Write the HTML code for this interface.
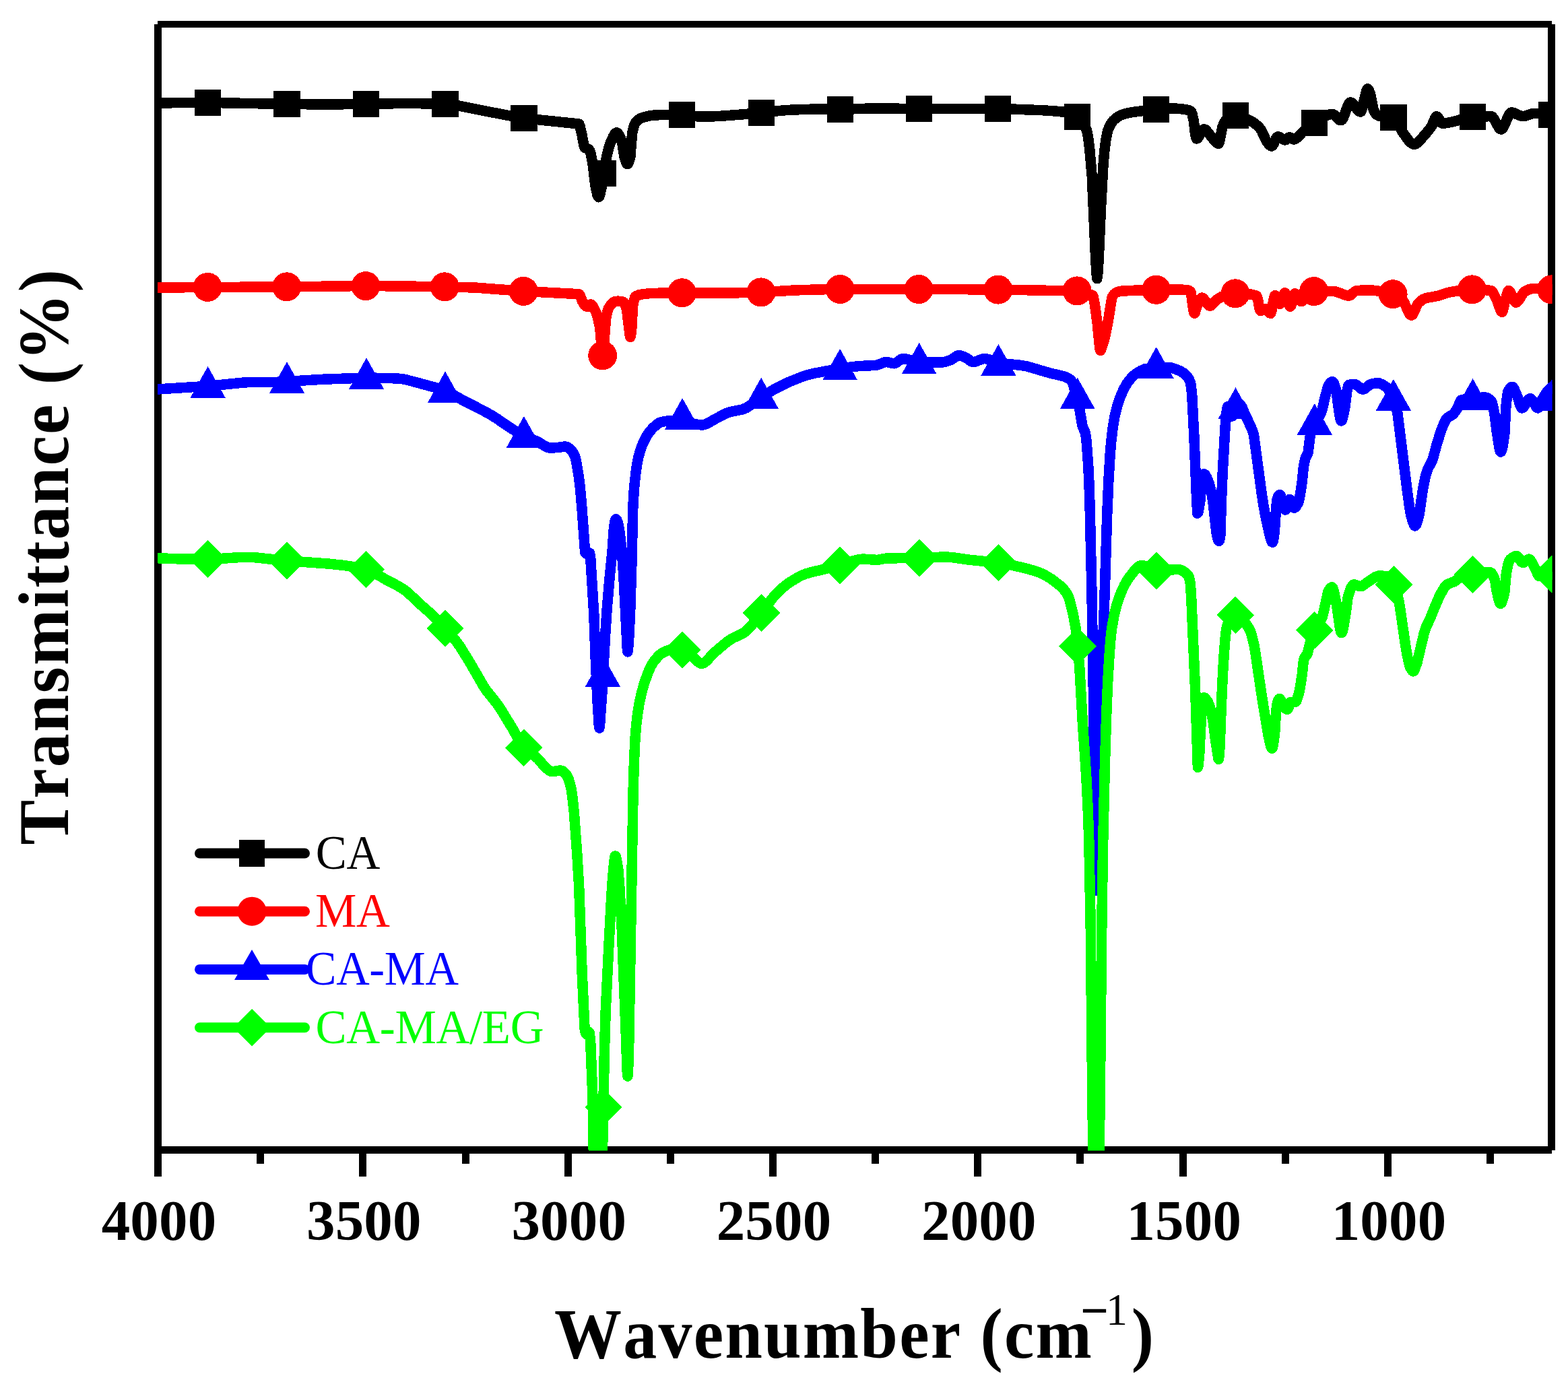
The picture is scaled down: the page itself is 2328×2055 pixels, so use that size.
<!DOCTYPE html>
<html lang="en"><head><meta charset="utf-8"><title>FTIR spectra</title>
<style>html,body{margin:0;padding:0;background:#fff}svg{display:block}text{font-kerning:none;font-variant-ligatures:none}</style></head>
<body>
<svg width="2328" height="2055" viewBox="0 0 2328 2055">
<rect width="2328" height="2055" fill="#fff"/>
<defs><clipPath id="plot"><rect x="234" y="30" width="2070.6" height="1678.4"/></clipPath></defs>
<g fill="#000" shape-rendering="crispEdges">
<rect x="229" y="36" width="11" height="1711"/>
<rect x="234" y="31" width="2070" height="10"/>
<rect x="2298" y="36" width="11" height="1672"/>
<rect x="234" y="1702" width="2070" height="11"/>
<rect x="533" y="1707" width="11" height="40"/>
<rect x="838" y="1707" width="11" height="40"/>
<rect x="1142" y="1707" width="11" height="40"/>
<rect x="1446" y="1707" width="11" height="40"/>
<rect x="1751" y="1707" width="11" height="40"/>
<rect x="2055" y="1707" width="11" height="40"/>
<rect x="381" y="1707" width="11" height="21"/>
<rect x="686" y="1707" width="11" height="21"/>
<rect x="990" y="1707" width="11" height="21"/>
<rect x="1294" y="1707" width="11" height="21"/>
<rect x="1598" y="1707" width="11" height="21"/>
<rect x="1903" y="1707" width="11" height="21"/>
<rect x="2207" y="1707" width="11" height="21"/>
</g>
<g clip-path="url(#plot)" shape-rendering="crispEdges">
<path d="M234.0,153.0 L268.8,152.6 L315.8,152.5 L412.4,154.3 L476.8,155.0 L544.0,154.5 L598.4,153.5 L630.0,153.8 L662.2,154.6 L669.2,155.2 L677.4,156.4 L750.8,170.8 L772.4,174.5 L794.6,177.3 L858.6,183.9 L859.6,184.1 L860.0,184.6 L861.0,187.4 L864.0,200.4 L866.6,214.4 L867.8,218.7 L868.2,219.3 L869.2,219.9 L872.8,221.0 L874.4,221.9 L875.6,224.0 L877.0,228.3 L879.8,241.1 L883.8,275.1 L886.8,288.9 L887.8,291.7 L888.8,292.8 L889.8,291.7 L890.8,288.9 L894.0,274.7 L898.8,241.3 L902.0,226.6 L904.2,218.5 L906.2,212.5 L910.0,203.8 L912.2,199.6 L914.2,197.3 L915.2,196.9 L916.2,197.1 L918.4,199.3 L920.8,203.8 L923.6,211.5 L927.0,233.1 L929.8,241.7 L930.8,243.4 L931.8,243.7 L932.6,243.0 L933.6,240.9 L935.8,233.1 L938.6,198.4 L940.4,190.1 L942.4,184.2 L943.6,182.2 L945.8,179.7 L948.2,177.6 L950.6,176.0 L955.8,174.0 L964.8,171.8 L973.6,170.8 L1013.4,170.4 L1020.2,170.9 L1038.4,173.2 L1052.6,173.2 L1070.2,172.3 L1105.6,169.6 L1161.4,164.1 L1175.2,163.1 L1210.6,162.0 L1253.4,162.2 L1292.4,161.0 L1359.6,161.4 L1486.0,161.4 L1548.8,163.8 L1568.2,165.1 L1581.6,166.5 L1587.6,168.1 L1593.6,170.4 L1600.0,173.8 L1603.6,176.6 L1607.2,180.9 L1610.4,186.4 L1613.2,192.8 L1614.6,198.6 L1616.2,208.8 L1617.8,222.3 L1621.2,260.8 L1626.6,382.7 L1628.0,406.7 L1628.8,413.7 L1629.6,408.7 L1631.0,388.7 L1634.6,307.3 L1637.8,248.1 L1639.6,226.1 L1641.6,209.4 L1643.4,199.7 L1645.0,193.3 L1647.0,188.3 L1649.6,183.4 L1652.8,179.1 L1656.6,175.6 L1661.2,172.4 L1666.0,170.2 L1673.2,168.2 L1682.4,166.4 L1715.8,162.2 L1733.2,161.3 L1746.2,161.1 L1755.2,161.9 L1764.6,163.5 L1768.2,165.2 L1769.0,166.5 L1770.0,169.4 L1772.2,179.1 L1774.4,197.4 L1775.6,203.8 L1776.4,206.0 L1777.8,205.5 L1779.2,203.9 L1785.6,193.1 L1787.0,192.0 L1788.2,191.9 L1789.8,192.6 L1791.6,194.4 L1805.0,210.9 L1807.2,212.7 L1809.2,213.3 L1810.0,212.3 L1810.8,209.5 L1814.8,188.9 L1817.6,182.3 L1820.0,178.1 L1821.4,176.5 L1823.2,175.2 L1826.6,173.4 L1829.6,172.2 L1834.0,171.4 L1839.2,171.9 L1845.4,173.9 L1853.0,177.5 L1860.8,181.8 L1866.4,186.2 L1870.2,190.1 L1872.8,193.5 L1879.0,207.1 L1881.0,210.7 L1885.2,215.6 L1886.6,216.6 L1888.0,217.0 L1889.0,216.5 L1890.2,215.0 L1894.6,205.6 L1895.6,204.0 L1896.6,203.1 L1897.8,202.9 L1899.4,203.4 L1905.0,207.0 L1907.4,208.0 L1909.2,207.6 L1912.8,204.5 L1914.2,203.8 L1915.8,204.2 L1920.0,206.8 L1921.2,207.0 L1922.8,206.6 L1926.0,204.3 L1933.4,196.6 L1947.0,185.6 L1963.8,174.5 L1967.8,172.2 L1971.4,170.6 L1975.8,169.5 L1978.0,169.3 L1979.2,169.5 L1981.8,171.3 L1988.2,177.7 L1990.0,178.7 L1991.6,178.6 L1993.2,176.9 L1994.8,173.7 L2001.6,155.7 L2003.0,153.3 L2004.4,152.0 L2006.0,152.1 L2007.8,153.3 L2010.0,155.7 L2016.4,164.1 L2018.4,165.7 L2020.2,166.0 L2021.4,164.3 L2022.8,160.0 L2028.4,135.9 L2029.6,132.9 L2030.6,131.9 L2031.2,132.1 L2032.0,133.1 L2034.2,138.6 L2039.4,163.5 L2040.4,165.7 L2042.6,168.8 L2044.8,171.0 L2047.0,172.0 L2051.0,172.6 L2066.6,174.0 L2069.2,174.4 L2070.4,175.1 L2072.0,176.9 L2073.8,179.8 L2081.2,194.5 L2089.0,205.4 L2092.0,209.3 L2094.6,211.9 L2096.8,213.5 L2099.0,214.3 L2100.6,214.2 L2102.2,213.7 L2106.0,211.0 L2121.0,193.6 L2125.8,186.9 L2130.6,175.5 L2131.8,173.5 L2132.8,172.8 L2133.8,173.1 L2134.8,174.0 L2139.4,181.6 L2140.6,182.9 L2141.6,183.3 L2148.4,182.6 L2161.2,179.8 L2177.2,175.0 L2183.4,173.6 L2198.0,172.9 L2214.2,172.7 L2215.8,173.6 L2217.8,176.1 L2225.4,189.5 L2227.2,191.4 L2228.8,192.0 L2230.4,191.2 L2232.0,189.1 L2234.0,185.1 L2239.8,171.4 L2241.8,168.2 L2243.4,167.1 L2245.2,167.1 L2247.4,167.6 L2256.6,171.7 L2260.6,172.6 L2264.6,172.1 L2273.8,169.0 L2277.8,168.3 L2294.2,168.7 L2300.4,169.4 L2306.0,170.4" fill="none" stroke="#000" stroke-width="15.5" stroke-linejoin="round" stroke-linecap="butt"/>
<rect x="288.6" y="132.8" width="39.5" height="39.5" fill="#000"/><rect x="406.1" y="134.8" width="39.5" height="39.5" fill="#000"/><rect x="523.5" y="134.8" width="39.5" height="39.5" fill="#000"/><rect x="641.1" y="134.8" width="39.5" height="39.5" fill="#000"/><rect x="758.2" y="155.6" width="39.5" height="39.5" fill="#000"/><rect x="875.8" y="237.6" width="39.5" height="39.5" fill="#000"/><rect x="992.8" y="150.7" width="39.5" height="39.5" fill="#000"/><rect x="1110.8" y="147.6" width="39.5" height="39.5" fill="#000"/><rect x="1227.8" y="142.6" width="39.5" height="39.5" fill="#000"/><rect x="1344.8" y="141.7" width="39.5" height="39.5" fill="#000"/><rect x="1461.8" y="141.7" width="39.5" height="39.5" fill="#000"/><rect x="1579.7" y="153.7" width="39.5" height="39.5" fill="#000"/><rect x="1696.7" y="142.6" width="39.5" height="39.5" fill="#000"/><rect x="1814.5" y="151.7" width="39.5" height="39.5" fill="#000"/><rect x="1931.8" y="162.8" width="39.5" height="39.5" fill="#000"/><rect x="2049.2" y="154.7" width="39.5" height="39.5" fill="#000"/><rect x="2166.8" y="153.6" width="39.5" height="39.5" fill="#000"/><rect x="2284.1" y="150.7" width="39.5" height="39.5" fill="#000"/>
<path d="M234.0,427.0 L429.8,425.8 L533.8,424.6 L583.2,424.8 L644.8,425.6 L678.2,426.2 L707.6,427.2 L775.6,432.3 L859.5,436.7 L860.2,437.1 L861.0,438.3 L864.8,447.9 L868.2,453.3 L870.6,455.0 L872.6,455.5 L873.6,455.0 L876.4,452.2 L877.2,452.0 L878.2,452.4 L879.6,453.7 L881.0,455.9 L885.2,464.6 L888.0,473.7 L890.8,487.2 L893.6,521.3 L894.2,526.4 L894.7,527.9 L895.2,526.4 L895.8,521.4 L899.6,473.5 L901.0,466.1 L902.4,460.7 L903.8,457.1 L905.8,454.1 L910.2,449.3 L912.2,447.9 L914.0,447.3 L918.2,447.2 L923.4,447.8 L925.4,448.3 L926.6,449.5 L928.8,454.2 L930.6,460.5 L935.0,496.8 L935.8,500.5 L936.6,497.7 L937.8,487.2 L939.6,454.7 L941.0,446.9 L942.6,441.6 L943.4,440.4 L944.6,439.6 L949.4,437.6 L954.6,436.7 L964.4,435.7 L974.4,435.3 L1002.6,434.8 L1080.8,435.0 L1101.2,434.7 L1135.6,433.7 L1178.6,431.0 L1215.2,429.9 L1241.4,429.5 L1377.8,429.5 L1448.6,429.8 L1493.6,430.2 L1601.4,432.1 L1606.4,433.2 L1619.4,437.3 L1622.1,438.7 L1623.0,440.3 L1624.6,447.0 L1626.6,460.2 L1629.2,480.3 L1632.0,509.7 L1633.2,518.5 L1633.8,520.5 L1634.6,519.3 L1638.2,508.9 L1641.0,497.9 L1645.4,475.6 L1650.2,445.8 L1651.2,441.2 L1653.6,437.3 L1656.4,434.7 L1660.0,433.3 L1665.2,432.2 L1689.4,430.9 L1736.6,430.0 L1753.2,430.0 L1764.6,431.0 L1767.0,432.7 L1768.0,434.0 L1768.4,435.2 L1770.8,453.8 L1772.4,463.0 L1773.3,465.3 L1774.2,464.1 L1776.8,455.5 L1780.4,447.2 L1782.4,443.6 L1784.0,442.1 L1785.4,442.2 L1786.8,443.2 L1793.4,452.4 L1795.0,453.8 L1796.4,454.2 L1797.8,453.8 L1799.4,452.6 L1804.8,446.5 L1806.8,444.7 L1814.0,440.4 L1819.4,438.2 L1827.4,436.4 L1833.2,435.8 L1845.2,436.1 L1858.0,437.2 L1863.4,438.5 L1865.7,439.5 L1866.2,440.1 L1867.4,444.3 L1870.0,457.6 L1870.8,460.3 L1871.4,461.3 L1873.2,461.0 L1877.2,458.6 L1879.0,458.4 L1880.6,459.5 L1884.6,464.4 L1886.3,465.3 L1887.0,464.5 L1887.8,462.0 L1891.2,443.8 L1892.6,439.1 L1893.0,438.7 L1893.4,438.8 L1894.4,439.9 L1898.4,449.7 L1899.4,451.1 L1900.2,451.4 L1901.0,450.7 L1901.8,449.2 L1905.8,437.5 L1906.8,435.5 L1907.6,434.8 L1908.4,435.1 L1909.4,437.0 L1913.6,451.9 L1914.6,454.4 L1915.6,455.3 L1916.2,454.9 L1917.0,453.2 L1920.8,438.8 L1921.6,436.7 L1922.4,435.8 L1923.4,436.1 L1924.6,437.2 L1930.0,446.0 L1931.2,447.3 L1932.4,447.7 L1933.6,447.2 L1935.0,445.8 L1939.6,438.6 L1941.4,436.4 L1946.0,433.8 L1949.6,432.7 L1980.6,432.5 L1985.8,433.8 L1997.6,438.2 L2000.6,438.9 L2003.2,439.1 L2005.6,438.2 L2011.2,432.9 L2013.6,431.6 L2027.4,430.8 L2038.2,431.1 L2052.2,432.8 L2061.2,434.6 L2070.0,437.4 L2076.6,440.9 L2081.0,444.1 L2083.2,446.4 L2085.4,450.4 L2091.8,464.6 L2093.8,467.4 L2095.5,468.2 L2096.8,467.6 L2098.4,465.3 L2103.4,454.1 L2105.2,450.8 L2108.8,447.3 L2112.6,444.6 L2115.4,443.3 L2119.4,442.2 L2136.4,439.0 L2149.4,434.7 L2154.4,433.5 L2170.6,430.9 L2182.6,429.9 L2199.8,430.2 L2214.0,431.5 L2215.8,433.2 L2218.0,436.8 L2222.8,446.7 L2227.8,460.4 L2229.0,462.5 L2230.2,463.3 L2230.8,462.7 L2231.6,460.4 L2234.4,447.2 L2237.4,436.7 L2238.8,432.9 L2239.8,431.6 L2241.0,432.0 L2242.2,433.5 L2248.0,446.4 L2249.4,448.5 L2250.8,449.2 L2252.6,448.4 L2254.4,446.6 L2260.6,436.6 L2263.0,433.5 L2264.8,432.2 L2270.6,429.6 L2275.2,428.5 L2283.6,428.5 L2295.8,428.9 L2306.0,429.9" fill="none" stroke="#ff0000" stroke-width="15.5" stroke-linejoin="round" stroke-linecap="butt"/>
<circle cx="308.4" cy="426.4" r="21.5" fill="#ff0000"/><circle cx="425.8" cy="425.8" r="21.5" fill="#ff0000"/><circle cx="543.0" cy="424.6" r="21.5" fill="#ff0000"/><circle cx="660.3" cy="425.8" r="21.5" fill="#ff0000"/><circle cx="777.3" cy="432.4" r="21.5" fill="#ff0000"/><circle cx="894.7" cy="527.9" r="21.5" fill="#ff0000"/><circle cx="1012.5" cy="434.8" r="21.5" fill="#ff0000"/><circle cx="1129.9" cy="433.9" r="21.5" fill="#ff0000"/><circle cx="1247.3" cy="429.5" r="21.5" fill="#ff0000"/><circle cx="1364.1" cy="429.5" r="21.5" fill="#ff0000"/><circle cx="1481.9" cy="430.1" r="21.5" fill="#ff0000"/><circle cx="1599.2" cy="431.9" r="21.5" fill="#ff0000"/><circle cx="1716.6" cy="430.3" r="21.5" fill="#ff0000"/><circle cx="1834.0" cy="435.8" r="21.5" fill="#ff0000"/><circle cx="1950.7" cy="432.6" r="21.5" fill="#ff0000"/><circle cx="2068.1" cy="436.7" r="21.5" fill="#ff0000"/><circle cx="2185.6" cy="429.9" r="21.5" fill="#ff0000"/><circle cx="2303.6" cy="429.9" r="21.5" fill="#ff0000"/>
<path d="M234.0,578.0 L309.8,573.2 L360.4,568.2 L372.6,567.3 L407.8,567.5 L478.0,563.3 L538.4,561.1 L552.0,561.1 L585.4,561.8 L595.6,562.4 L601.2,563.4 L616.6,567.3 L650.0,576.5 L658.2,579.0 L664.4,581.4 L670.2,584.5 L684.8,593.0 L720.2,611.2 L729.0,616.1 L737.2,621.2 L756.4,634.4 L773.2,644.7 L781.2,648.7 L798.6,655.9 L809.0,662.3 L812.6,664.1 L816.0,665.1 L819.8,665.1 L829.6,664.3 L839.0,662.9 L841.6,663.5 L844.4,665.3 L849.0,669.5 L851.0,672.3 L853.6,678.0 L855.4,684.2 L859.4,708.1 L861.2,722.6 L864.0,755.3 L868.6,818.9 L868.8,820.0 L869.6,821.4 L871.4,822.9 L872.4,822.9 L874.6,821.2 L875.4,821.1 L876.0,823.5 L876.8,830.0 L881.8,911.9 L884.4,982.5 L887.2,1044.2 L889.2,1076.0 L889.9,1081.1 L890.6,1075.8 L894.2,1024.3 L898.6,943.5 L901.2,903.7 L905.0,858.7 L909.1,817.7 L911.4,784.3 L912.6,776.0 L913.6,771.8 L914.4,770.7 L915.2,771.3 L916.0,772.7 L917.8,777.5 L920.2,791.3 L923.2,817.7 L925.8,854.9 L931.4,965.2 L931.8,967.9 L932.6,962.4 L934.0,943.6 L935.8,904.3 L937.9,836.5 L939.8,753.1 L941.4,726.1 L944.0,701.1 L946.0,687.8 L948.2,677.4 L951.2,667.0 L954.6,658.1 L959.2,649.0 L963.8,641.7 L969.4,635.4 L975.6,629.9 L978.8,627.8 L981.8,626.7 L990.6,625.0 L998.0,624.5 L1004.2,624.9 L1015.4,626.3 L1036.8,630.6 L1042.6,631.0 L1045.8,630.5 L1050.8,628.5 L1060.2,623.1 L1074.6,615.4 L1079.4,613.2 L1085.8,611.3 L1101.0,608.2 L1107.2,606.1 L1113.6,602.1 L1129.0,590.2 L1148.4,578.7 L1160.4,572.4 L1171.4,567.2 L1184.6,561.8 L1194.8,558.0 L1202.6,555.7 L1212.4,553.6 L1240.4,548.4 L1257.2,545.8 L1274.2,543.7 L1301.2,542.3 L1304.4,541.4 L1311.6,538.4 L1314.6,537.6 L1317.8,537.7 L1324.8,539.6 L1327.8,539.8 L1330.8,538.5 L1337.4,533.6 L1340.0,532.6 L1346.0,533.2 L1358.2,536.5 L1363.2,537.4 L1399.0,538.0 L1403.6,537.2 L1410.6,534.9 L1413.0,533.6 L1420.4,528.6 L1422.8,527.8 L1425.0,527.8 L1428.8,528.8 L1435.0,531.5 L1441.4,536.3 L1443.8,537.4 L1445.8,537.4 L1448.4,536.9 L1459.0,532.9 L1461.4,532.6 L1464.4,532.8 L1468.4,533.9 L1477.8,537.5 L1482.2,538.7 L1491.8,540.0 L1514.6,542.3 L1525.4,544.1 L1560.0,554.3 L1577.8,558.3 L1582.0,559.7 L1585.4,561.2 L1588.2,563.1 L1590.6,565.4 L1592.2,567.5 L1593.2,570.1 L1602.6,606.3 L1606.8,631.1 L1608.0,634.9 L1610.6,640.8 L1611.6,644.3 L1612.4,648.9 L1613.4,658.7 L1615.8,692.5 L1617.0,718.2 L1618.2,755.9 L1621.0,880.8 L1623.4,1027.9 L1626.6,1286.1 L1627.5,1322.0 L1628.0,1316.7 L1628.6,1298.4 L1631.4,1153.9 L1635.0,1030.9 L1640.4,872.4 L1643.7,764.6 L1645.8,715.4 L1648.2,674.4 L1649.8,655.0 L1652.4,633.5 L1654.8,619.3 L1658.2,604.9 L1662.6,591.3 L1668.4,577.7 L1673.2,569.2 L1679.4,561.3 L1683.4,557.4 L1687.2,554.5 L1694.4,550.2 L1699.8,547.9 L1703.0,547.3 L1710.4,546.7 L1735.8,545.8 L1739.0,546.1 L1742.8,547.2 L1750.2,550.0 L1754.0,551.9 L1757.6,554.2 L1760.8,556.9 L1763.2,559.5 L1765.0,562.3 L1767.0,567.0 L1767.8,570.3 L1769.0,578.9 L1769.8,587.7 L1772.8,645.9 L1776.4,736.3 L1777.8,762.3 L1778.6,761.2 L1779.4,758.4 L1781.7,745.0 L1784.2,718.6 L1785.8,709.0 L1786.6,705.6 L1787.4,703.9 L1788.4,704.0 L1789.4,705.0 L1791.6,708.9 L1795.0,717.3 L1796.6,722.8 L1798.4,730.7 L1799.8,738.2 L1801.2,748.1 L1806.2,792.4 L1808.2,800.8 L1809.0,802.8 L1809.6,803.4 L1810.2,803.0 L1810.8,801.3 L1812.0,794.0 L1813.2,749.3 L1815.2,701.9 L1819.2,632.2 L1821.6,607.0 L1822.4,604.0 L1823.2,604.5 L1828.2,616.4 L1829.0,617.7 L1829.6,618.0 L1830.8,616.1 L1833.2,608.7 L1837.0,599.9 L1837.8,598.8 L1838.6,598.5 L1839.6,598.9 L1840.8,600.0 L1843.2,603.3 L1844.4,605.5 L1848.0,614.0 L1858.2,636.1 L1860.0,640.7 L1861.5,646.0 L1873.6,735.6 L1876.2,752.1 L1879.6,769.9 L1885.6,796.7 L1887.6,803.2 L1888.4,804.7 L1889.3,805.3 L1890.0,804.2 L1890.6,801.8 L1892.3,790.0 L1894.8,752.2 L1895.8,743.0 L1896.8,739.4 L1898.0,736.6 L1899.0,735.1 L1900.1,734.5 L1901.0,735.2 L1902.6,739.3 L1906.4,753.5 L1907.4,755.9 L1908.4,757.0 L1909.0,756.7 L1909.8,755.3 L1913.2,744.0 L1914.0,742.2 L1914.6,741.5 L1915.4,741.8 L1916.2,742.9 L1919.8,751.9 L1920.6,753.4 L1921.4,754.1 L1922.8,753.7 L1924.2,752.3 L1927.6,746.2 L1929.2,740.8 L1931.2,729.2 L1933.2,714.8 L1935.2,695.3 L1936.6,686.4 L1938.2,679.7 L1941.2,674.4 L1942.2,671.6 L1944.8,649.7 L1946.2,643.4 L1948.6,636.0 L1952.2,628.1 L1954.2,624.6 L1959.0,617.7 L1961.6,612.5 L1963.2,607.4 L1967.2,590.1 L1971.4,574.8 L1972.9,571.4 L1975.2,568.4 L1976.8,567.0 L1977.8,566.6 L1978.6,566.7 L1980.2,568.8 L1982.0,573.6 L1984.2,581.6 L1987.0,604.3 L1988.8,615.5 L1990.2,622.6 L1990.8,624.4 L1991.4,625.0 L1992.2,624.3 L1993.0,622.5 L1994.8,615.4 L1997.0,603.8 L1999.6,582.1 L2001.4,574.1 L2002.6,571.4 L2007.6,570.5 L2012.2,570.5 L2014.6,571.9 L2020.6,577.1 L2022.2,577.9 L2023.6,578.1 L2025.0,577.7 L2026.6,576.9 L2032.6,571.9 L2035.0,570.5 L2042.0,569.0 L2047.2,568.8 L2051.2,570.3 L2057.2,574.1 L2060.6,577.4 L2063.6,581.6 L2066.8,588.4 L2071.2,600.0 L2073.2,606.2 L2074.8,613.0 L2088.6,723.6 L2093.0,755.4 L2094.8,765.0 L2097.4,774.2 L2099.4,779.4 L2100.2,780.5 L2101.0,780.9 L2102.2,779.9 L2103.4,777.3 L2107.0,764.5 L2112.4,727.2 L2115.2,712.8 L2117.4,703.4 L2120.0,695.8 L2125.4,686.0 L2127.4,681.2 L2133.0,660.4 L2139.4,639.7 L2144.0,628.5 L2147.0,622.7 L2148.2,621.1 L2149.8,619.7 L2156.6,615.7 L2160.2,611.8 L2165.2,603.8 L2167.8,596.2 L2168.8,594.3 L2170.6,593.7 L2174.6,593.0 L2185.8,592.1 L2198.6,590.3 L2204.4,589.9 L2206.8,590.3 L2209.4,591.6 L2211.8,593.4 L2214.4,596.0 L2215.2,597.6 L2216.2,601.1 L2218.8,614.2 L2222.2,640.7 L2225.8,663.9 L2227.0,669.2 L2227.6,670.6 L2228.2,671.0 L2228.8,670.5 L2229.4,669.4 L2230.8,664.3 L2232.2,656.3 L2233.9,643.3 L2235.8,604.8 L2237.6,588.1 L2238.8,582.1 L2240.4,578.8 L2242.0,576.4 L2243.6,574.9 L2245.2,574.4 L2246.4,575.0 L2247.6,576.7 L2253.0,589.2 L2257.4,602.9 L2259.0,605.6 L2259.6,605.9 L2260.4,605.7 L2262.0,604.5 L2268.8,594.0 L2270.4,592.3 L2271.9,591.7 L2273.2,592.2 L2274.8,594.0 L2280.8,604.3 L2282.0,605.5 L2283.2,605.9 L2284.2,605.4 L2285.2,603.9 L2290.0,592.6 L2296.0,582.9 L2298.2,580.0 L2301.0,577.2 L2303.6,574.9 L2306.0,573.4" fill="none" stroke="#0000ff" stroke-width="15.5" stroke-linejoin="round" stroke-linecap="butt"/>
<path d="M308.6,544.0 L334.6,590.5 L282.6,590.5 Z" fill="#0000ff"/><path d="M426.0,537.2 L452.0,583.7 L400.0,583.7 Z" fill="#0000ff"/><path d="M544.1,531.3 L570.1,577.8 L518.1,577.8 Z" fill="#0000ff"/><path d="M661.0,551.4 L687.0,597.9 L635.0,597.9 Z" fill="#0000ff"/><path d="M777.9,618.0 L803.9,664.5 L751.9,664.5 Z" fill="#0000ff"/><path d="M894.9,973.0 L920.9,1019.5 L868.9,1019.5 Z" fill="#0000ff"/><path d="M1013.1,591.0 L1039.1,637.5 L987.1,637.5 Z" fill="#0000ff"/><path d="M1130.1,560.7 L1156.1,607.2 L1104.1,607.2 Z" fill="#0000ff"/><path d="M1247.1,517.9 L1273.1,564.4 L1221.1,564.4 Z" fill="#0000ff"/><path d="M1364.7,508.9 L1390.7,555.4 L1338.7,555.4 Z" fill="#0000ff"/><path d="M1482.4,511.1 L1508.4,557.6 L1456.4,557.6 Z" fill="#0000ff"/><path d="M1599.7,560.7 L1625.7,607.2 L1573.7,607.2 Z" fill="#0000ff"/><path d="M1716.7,515.2 L1742.7,561.7 L1690.7,561.7 Z" fill="#0000ff"/><path d="M1834.5,575.4 L1860.5,621.9 L1808.5,621.9 Z" fill="#0000ff"/><path d="M1951.8,599.0 L1977.8,645.5 L1925.8,645.5 Z" fill="#0000ff"/><path d="M2068.9,563.0 L2094.9,609.5 L2042.9,609.5 Z" fill="#0000ff"/><path d="M2186.6,562.0 L2212.6,608.5 L2160.6,608.5 Z" fill="#0000ff"/><path d="M2304.0,563.0 L2330.0,609.5 L2278.0,609.5 Z" fill="#0000ff"/>
<path d="M234.0,828.7 L266.0,829.9 L309.8,830.2 L323.2,829.7 L358.8,827.4 L369.2,827.3 L379.2,827.8 L422.8,832.4 L485.8,836.9 L511.0,839.5 L527.0,842.0 L541.2,845.0 L548.2,847.2 L556.0,850.8 L573.2,860.7 L591.6,870.3 L601.0,876.3 L607.2,881.4 L622.8,896.3 L641.6,912.8 L650.4,921.4 L672.6,946.5 L678.4,953.7 L683.2,960.4 L698.6,985.3 L717.2,1017.8 L722.8,1026.0 L736.8,1043.5 L743.6,1053.3 L760.8,1081.5 L772.2,1102.4 L777.0,1109.4 L779.8,1112.3 L783.2,1115.3 L794.2,1123.0 L798.6,1126.6 L801.4,1129.5 L808.4,1138.4 L815.2,1143.9 L817.6,1145.2 L819.6,1145.6 L822.8,1145.4 L830.6,1144.1 L833.8,1144.2 L835.6,1145.0 L837.4,1146.4 L841.8,1151.7 L844.0,1156.3 L846.4,1164.2 L848.2,1172.0 L849.8,1182.7 L852.4,1207.3 L856.8,1267.7 L859.6,1314.6 L864.2,1445.4 L868.0,1526.5 L868.6,1531.1 L869.6,1534.0 L870.6,1535.6 L871.8,1535.9 L874.4,1533.2 L875.0,1533.0 L875.2,1533.3 L876.6,1545.0 L880.0,1630.0 L881.2,1705.3 L882.0,1725.5 L883.4,1753.7 L884.8,1774.0 L886.2,1786.2 L886.8,1788.9 L887.5,1790.0 L888.2,1789.1 L889.0,1785.7 L890.6,1772.2 L892.2,1750.4 L894.0,1717.1 L894.8,1694.9 L897.4,1561.1 L899.2,1501.1 L904.2,1398.1 L907.8,1330.9 L909.4,1305.9 L911.6,1281.6 L912.4,1275.0 L913.2,1271.3 L913.6,1271.0 L914.2,1271.8 L915.2,1275.2 L917.8,1291.2 L919.8,1316.4 L923.2,1377.7 L929.4,1538.3 L931.0,1587.1 L931.6,1597.2 L931.8,1598.0 L932.0,1597.3 L933.0,1580.0 L933.8,1547.4 L940.2,1171.0 L941.6,1127.0 L943.0,1096.9 L944.6,1077.2 L946.6,1060.0 L949.1,1044.8 L952.2,1030.1 L956.0,1016.2 L961.4,1000.6 L966.0,989.9 L970.2,982.9 L976.8,974.9 L980.0,971.9 L983.0,969.8 L988.8,966.9 L993.6,965.1 L997.6,964.2 L1001.6,964.0 L1012.8,964.9 L1015.8,965.8 L1019.6,968.1 L1029.0,975.8 L1035.4,981.9 L1038.0,983.9 L1039.8,984.9 L1041.4,985.2 L1043.0,985.0 L1044.8,984.4 L1047.0,983.0 L1049.6,980.7 L1060.4,969.1 L1079.6,952.9 L1087.6,947.7 L1102.8,940.5 L1106.2,938.3 L1109.4,935.6 L1113.6,931.2 L1118.4,925.5 L1133.6,906.0 L1145.2,890.4 L1150.0,884.5 L1155.8,878.6 L1161.8,873.0 L1167.4,868.3 L1172.8,864.5 L1185.8,856.6 L1191.4,853.9 L1196.6,851.9 L1204.8,849.6 L1248.0,839.2 L1266.6,832.9 L1273.6,831.0 L1278.0,830.3 L1282.2,830.1 L1301.4,831.4 L1305.0,831.1 L1313.8,829.3 L1317.8,828.9 L1366.6,828.4 L1400.2,827.0 L1406.6,827.1 L1412.8,827.5 L1439.4,831.3 L1481.8,835.4 L1492.0,837.0 L1503.6,839.4 L1526.8,844.9 L1540.2,849.0 L1545.6,851.1 L1550.8,853.6 L1556.2,856.7 L1561.8,860.3 L1573.2,869.1 L1579.0,874.7 L1582.0,878.5 L1584.6,882.5 L1586.0,885.3 L1587.4,889.2 L1589.8,897.8 L1593.4,912.9 L1597.0,932.4 L1598.6,944.6 L1602.6,988.2 L1607.2,1070.5 L1612.8,1153.4 L1615.0,1197.0 L1616.7,1243.5 L1619.2,1372.2 L1621.8,1630.4 L1622.8,1702.1 L1625.4,1776.7 L1626.4,1793.2 L1627.0,1798.5 L1627.5,1800.0 L1628.0,1798.5 L1628.6,1793.2 L1629.6,1776.7 L1632.2,1702.2 L1633.2,1633.0 L1635.8,1374.0 L1637.6,1254.1 L1640.6,1128.2 L1642.8,1058.5 L1644.6,1014.8 L1647.0,973.6 L1649.0,947.5 L1650.6,933.7 L1653.8,915.0 L1657.8,898.5 L1663.0,883.4 L1666.2,875.7 L1669.4,869.0 L1672.8,862.9 L1676.2,857.7 L1684.0,847.7 L1688.0,843.3 L1691.6,840.5 L1693.4,839.7 L1695.0,839.5 L1697.4,839.8 L1700.0,840.6 L1710.8,846.0 L1715.6,847.4 L1723.4,847.3 L1744.2,845.6 L1748.6,845.5 L1751.6,845.9 L1755.6,847.4 L1759.4,849.8 L1763.8,853.9 L1765.0,856.2 L1766.2,860.6 L1767.4,867.3 L1768.8,889.4 L1774.8,1028.7 L1778.4,1139.4 L1778.8,1138.5 L1779.4,1134.3 L1780.8,1117.9 L1782.6,1081.1 L1784.4,1052.1 L1786.2,1039.9 L1787.0,1036.8 L1787.6,1035.8 L1788.6,1036.1 L1789.8,1037.1 L1793.0,1041.5 L1795.6,1048.0 L1798.0,1056.1 L1801.2,1072.4 L1804.6,1098.6 L1808.6,1125.0 L1809.2,1127.3 L1809.6,1126.6 L1811.0,1109.8 L1813.6,1041.0 L1815.6,998.7 L1817.4,968.9 L1819.0,948.6 L1820.6,934.7 L1821.6,929.7 L1824.0,924.1 L1826.6,919.4 L1829.0,916.2 L1831.6,914.1 L1833.0,913.5 L1834.6,913.3 L1836.2,913.6 L1837.8,914.4 L1841.0,917.0 L1848.0,924.2 L1851.6,928.7 L1854.6,933.7 L1856.6,938.0 L1858.6,944.1 L1861.4,955.3 L1863.2,964.6 L1873.2,1032.5 L1882.8,1091.1 L1886.6,1107.6 L1887.6,1110.4 L1888.5,1111.4 L1889.2,1110.5 L1890.0,1107.4 L1891.6,1096.7 L1892.8,1086.0 L1894.2,1063.2 L1895.2,1052.3 L1896.2,1044.7 L1897.4,1040.7 L1899.0,1037.8 L1899.6,1037.6 L1900.4,1038.0 L1902.0,1040.5 L1906.6,1050.5 L1909.2,1052.6 L1911.4,1053.4 L1912.0,1053.0 L1912.6,1051.8 L1915.0,1044.5 L1916.0,1042.6 L1923.6,1042.4 L1925.0,1040.5 L1928.6,1028.7 L1930.4,1020.1 L1933.2,1002.0 L1935.0,984.5 L1935.8,979.6 L1937.2,976.2 L1940.2,972.0 L1941.6,969.1 L1945.3,953.6 L1948.2,944.5 L1951.0,937.3 L1954.0,931.4 L1960.4,921.9 L1963.3,915.7 L1964.8,910.4 L1971.4,880.2 L1972.2,878.0 L1973.6,875.6 L1975.0,873.6 L1976.4,872.3 L1977.8,871.9 L1978.6,872.9 L1979.6,875.5 L1980.8,880.2 L1984.8,899.8 L1989.6,933.5 L1990.8,938.4 L1991.4,939.5 L1991.8,939.6 L1992.6,938.7 L1993.4,936.5 L1995.4,927.0 L1998.2,910.2 L2001.2,886.5 L2004.8,875.3 L2006.4,871.7 L2008.0,869.2 L2009.2,868.2 L2010.6,867.9 L2012.8,868.4 L2018.4,870.5 L2020.2,870.7 L2021.8,870.3 L2024.2,869.0 L2029.0,865.4 L2040.6,857.6 L2043.6,856.0 L2046.2,855.1 L2051.4,855.0 L2058.8,855.7 L2060.8,856.6 L2062.8,858.3 L2066.2,862.7 L2070.2,869.4 L2072.4,875.2 L2075.0,884.3 L2076.8,892.0 L2078.2,899.8 L2086.8,958.6 L2089.4,973.7 L2091.8,984.7 L2093.4,990.2 L2096.2,995.2 L2097.4,996.5 L2098.3,996.8 L2099.2,996.2 L2100.4,994.0 L2104.0,983.7 L2114.0,941.5 L2117.0,931.6 L2123.8,917.4 L2130.4,900.8 L2137.6,884.2 L2144.0,873.1 L2146.2,870.1 L2148.2,868.2 L2151.2,866.6 L2159.4,863.5 L2167.8,857.4 L2171.2,855.7 L2176.6,854.5 L2202.4,850.4 L2208.6,849.7 L2212.6,849.7 L2214.0,850.6 L2215.6,852.7 L2219.0,859.6 L2220.0,864.0 L2222.0,876.7 L2224.8,889.3 L2226.4,894.7 L2227.2,896.1 L2227.8,896.4 L2229.2,895.1 L2230.6,891.9 L2232.2,886.3 L2233.9,878.6 L2236.4,851.0 L2239.2,837.4 L2240.4,833.7 L2241.6,831.3 L2244.2,828.8 L2246.8,827.0 L2250.2,825.7 L2251.6,825.6 L2252.6,826.0 L2254.4,827.7 L2258.8,834.0 L2260.0,835.1 L2261.0,835.5 L2263.2,834.8 L2268.6,830.6 L2270.0,830.2 L2271.2,830.6 L2272.6,832.1 L2274.0,834.3 L2279.6,844.9 L2283.4,853.2 L2284.4,854.8 L2285.4,855.6 L2291.8,855.6 L2297.2,855.1 L2301.8,854.1 L2306.0,852.5" fill="none" stroke="#00ff00" stroke-width="15.5" stroke-linejoin="round" stroke-linecap="butt"/>
<path d="M308.6,802.4 L336.4,830.2 L308.6,858.0 L280.8,830.2 Z" fill="#00ff00"/><path d="M426.0,804.9 L453.8,832.7 L426.0,860.5 L398.2,832.7 Z" fill="#00ff00"/><path d="M543.4,817.8 L571.2,845.6 L543.4,873.4 L515.6,845.6 Z" fill="#00ff00"/><path d="M661.0,905.4 L688.8,933.2 L661.0,961.0 L633.2,933.2 Z" fill="#00ff00"/><path d="M777.8,1082.5 L805.6,1110.3 L777.8,1138.1 L750.0,1110.3 Z" fill="#00ff00"/><path d="M895.9,1616.2 L923.7,1644.0 L895.9,1671.8 L868.1,1644.0 Z" fill="#00ff00"/><path d="M1013.0,937.1 L1040.8,964.9 L1013.0,992.7 L985.2,964.9 Z" fill="#00ff00"/><path d="M1130.4,882.3 L1158.2,910.1 L1130.4,937.9 L1102.6,910.1 Z" fill="#00ff00"/><path d="M1247.1,811.6 L1274.9,839.4 L1247.1,867.2 L1219.3,839.4 Z" fill="#00ff00"/><path d="M1365.0,800.6 L1392.8,828.4 L1365.0,856.2 L1337.2,828.4 Z" fill="#00ff00"/><path d="M1482.4,807.7 L1510.2,835.5 L1482.4,863.3 L1454.6,835.5 Z" fill="#00ff00"/><path d="M1600.0,931.8 L1627.8,959.6 L1600.0,987.4 L1572.2,959.6 Z" fill="#00ff00"/><path d="M1716.9,819.7 L1744.7,847.5 L1716.9,875.3 L1689.1,847.5 Z" fill="#00ff00"/><path d="M1834.4,885.5 L1862.2,913.3 L1834.4,941.1 L1806.6,913.3 Z" fill="#00ff00"/><path d="M1951.7,907.9 L1979.5,935.7 L1951.7,963.5 L1923.9,935.7 Z" fill="#00ff00"/><path d="M2069.5,840.3 L2097.3,868.1 L2069.5,895.9 L2041.7,868.1 Z" fill="#00ff00"/><path d="M2186.7,825.3 L2214.5,853.1 L2186.7,880.9 L2158.9,853.1 Z" fill="#00ff00"/><path d="M2304.0,824.7 L2331.8,852.5 L2304.0,880.3 L2276.2,852.5 Z" fill="#00ff00"/>
</g>
<line x1="296.5" y1="1267" x2="452.5" y2="1267" stroke="#000" stroke-width="15" stroke-linecap="round"/>
<rect x="355" y="1247" width="38" height="40" fill="#000"/>
<text transform="translate(468.7,1290.0) scale(1,1.05)" font-family="'Liberation Serif', serif" font-size="69" letter-spacing="-0.3" fill="#000">CA</text>
<line x1="296.5" y1="1353.2" x2="452.5" y2="1353.2" stroke="#ff0000" stroke-width="15" stroke-linecap="round"/>
<circle cx="374.1" cy="1353.2" r="21.5" fill="#ff0000"/>
<text transform="translate(468.0,1376.2) scale(1,1.05)" font-family="'Liberation Serif', serif" font-size="69" letter-spacing="-0.3" fill="#ff0000">MA</text>
<line x1="296.5" y1="1439.4" x2="452.5" y2="1439.4" stroke="#0000ff" stroke-width="15" stroke-linecap="round"/>
<path d="M374,1409.9 L400,1454.9 L348,1454.9 Z" fill="#0000ff"/>
<text transform="translate(453.8,1462.4) scale(1,1.05)" font-family="'Liberation Serif', serif" font-size="68.5" letter-spacing="-0.3" fill="#0000ff">CA-MA</text>
<line x1="296.5" y1="1525.7" x2="452.5" y2="1525.7" stroke="#00ff00" stroke-width="15" stroke-linecap="round"/>
<path d="M374.1,1497.9 L401.9,1525.7 L374.1,1553.5 L346.3,1525.7 Z" fill="#00ff00"/>
<text transform="translate(468.5,1548.7) scale(1,1.05)" font-family="'Liberation Serif', serif" font-size="69" letter-spacing="-0.3" fill="#00ff00">CA-MA/EG</text>
<text transform="translate(150.7,1841.2) scale(1,1.0)" font-family="'Liberation Serif', serif" font-weight="bold" font-size="85" letter-spacing="0.16" fill="#000">4000</text>
<text transform="translate(455.0,1841.2) scale(1,1.0)" font-family="'Liberation Serif', serif" font-weight="bold" font-size="85" letter-spacing="0.16" fill="#000">3500</text>
<text transform="translate(759.4,1841.2) scale(1,1.0)" font-family="'Liberation Serif', serif" font-weight="bold" font-size="85" letter-spacing="0.16" fill="#000">3000</text>
<text transform="translate(1063.7,1841.2) scale(1,1.0)" font-family="'Liberation Serif', serif" font-weight="bold" font-size="85" letter-spacing="0.16" fill="#000">2500</text>
<text transform="translate(1368.0,1841.2) scale(1,1.0)" font-family="'Liberation Serif', serif" font-weight="bold" font-size="85" letter-spacing="0.16" fill="#000">2000</text>
<text transform="translate(1672.4,1841.2) scale(1,1.0)" font-family="'Liberation Serif', serif" font-weight="bold" font-size="85" letter-spacing="0.16" fill="#000">1500</text>
<text transform="translate(1976.7,1841.2) scale(1,1.0)" font-family="'Liberation Serif', serif" font-weight="bold" font-size="85" letter-spacing="0.16" fill="#000">1000</text>
<text transform="scale(1,1.05)" font-family="'Liberation Serif', serif" font-weight="bold" font-size="100" letter-spacing="2.2" fill="#000"><tspan x="823.1" y="1920.00">Wavenumber (cm</tspan><tspan x="1604.1" y="1877.71" font-size="73.7" letter-spacing="0">−</tspan><tspan x="1642.1" y="1873.81" font-size="64" font-weight="normal" letter-spacing="0">1</tspan><tspan x="1679.8" y="1920.00" letter-spacing="0">)</tspan></text>
<text transform="translate(101.0,1254.6) rotate(-90) scale(1,1.05)" font-family="'Liberation Serif', serif" font-weight="bold" font-size="100" letter-spacing="2.2" fill="#000">Transmittance (%)</text>
</svg>
</body></html>
